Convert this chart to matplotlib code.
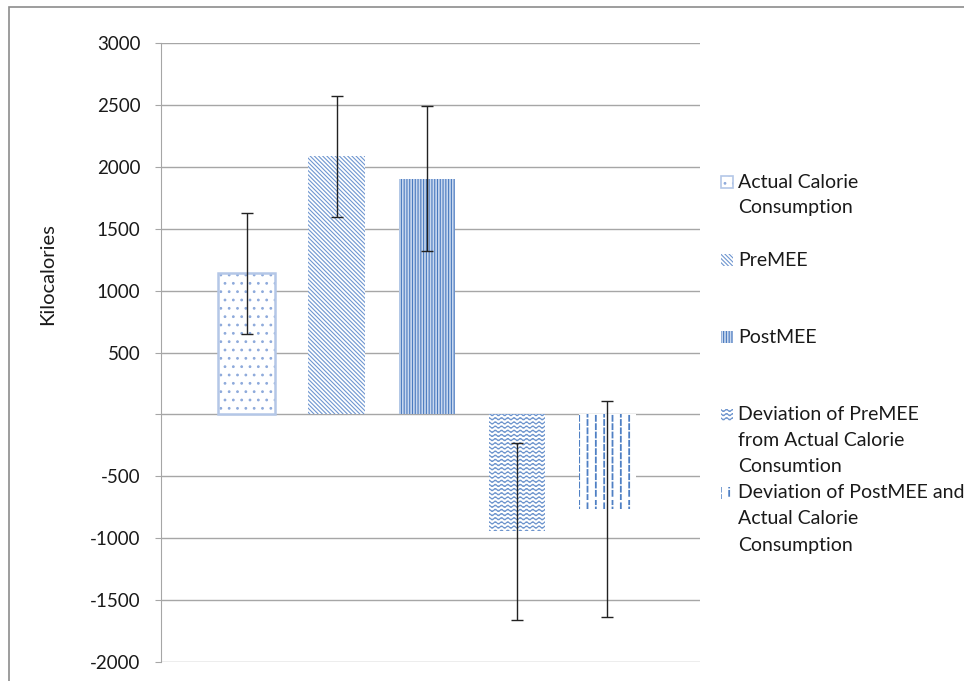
import warnings
import numpy as np
import matplotlib
matplotlib.use("Agg")
import matplotlib.pyplot as plt
import matplotlib.hatch as mhatch
from matplotlib.patches import Rectangle
from matplotlib.path import Path

warnings.filterwarnings("ignore")

labels = ["Actual Calorie\nConsumption", "PreMEE", "PostMEE",
          "Deviation of PreMEE\nfrom Actual Calorie\nConsumtion",
          "Deviation of PostMEE and\nActual Calorie\nConsumption"]
means = [1140, 2085, 1905, -945, -765]
errors = [490, 490, 585, 715, 875]
yticks = [-2000, -1500, -1000, -500, 0, 500, 1000, 1500, 2000, 2500, 3000]
ytick_labels = ["-2000", "-1500", "-1000", "-500", "", "500", "1000", "1500", "2000", "2500", "3000"]


# extra hatch patterns: '~' wavy rows, ':' dashed columns
class WaveHatch(mhatch.HatchPatternBase):
    def __init__(self, hatch, density):
        self.num_lines = int(hatch.count('~') * density)
        self.periods = 16
        self.pts = self.periods * 6 + 1
        self.num_vertices = self.num_lines * self.pts

    def set_vertices_and_codes(self, vertices, codes):
        t = np.linspace(0, 1, self.pts)
        amp = 0.28 / self.num_lines
        for i in range(self.num_lines):
            s = slice(i * self.pts, (i + 1) * self.pts)
            vertices[s, 0] = t
            vertices[s, 1] = (i + 0.5) / self.num_lines + amp * np.sin(2 * np.pi * self.periods * t)
            codes[s] = Path.LINETO
            codes[i * self.pts] = Path.MOVETO


class DashHatch(mhatch.HatchPatternBase):
    def __init__(self, hatch, density):
        self.num_cols = int(hatch.count(':') * density)
        self.dashes = 12
        self.num_vertices = self.num_cols * self.dashes * 2

    def set_vertices_and_codes(self, vertices, codes):
        k = 0
        for i in range(self.num_cols):
            x = (i + 0.5) / self.num_cols
            shift = 0.5 * (i % 2) / self.dashes
            for j in range(self.dashes):
                y0 = j / self.dashes + shift
                vertices[k] = (x, y0)
                vertices[k + 1] = (x, y0 + 0.6 / self.dashes)
                codes[k] = Path.MOVETO
                codes[k + 1] = Path.LINETO
                k += 2


mhatch._hatch_types.append(WaveHatch)
mhatch._hatch_types.append(DashHatch)

plt.rcParams['font.family'] = ['Lato', 'DejaVu Sans']

hatches = ['..', '\\' * 8, '||||||', '~~~~', '::']
hatch_colors = ['#8eaadb', '#6f96d0', '#4a7abf', '#6a92cc', '#4f80c4']
hatch_widths = [0.8, 0.8, 0.8, 0.8, 1.3]
face_colors = ['white', 'white', '#c9d8ef', 'white', 'white']
edge_widths = [1.8, 0, 0, 0, 0]

W, H = 964, 681
fig = plt.figure(figsize=(W / 100, H / 100), dpi=100)

# outer chart frame
fig.add_artist(Rectangle((9 / W, -0.1), 1.2, 1.1 - 7 / H, transform=fig.transFigure,
                         fill=False, edgecolor='#8c8c8c', linewidth=1.2))

ax = fig.add_axes([161 / W, 1 - 662 / H, (700 - 161) / W, (662 - 43) / H])
x = np.arange(len(means))
for i in range(len(means)):
    with plt.rc_context({'hatch.linewidth': hatch_widths[i]}):
        ax.bar(x[i], means[i], width=0.63, color=face_colors[i], edgecolor=hatch_colors[i],
               hatch=hatches[i], linewidth=0, zorder=2)
    if edge_widths[i] > 0:
        ax.bar(x[i], means[i], width=0.63, color='none', edgecolor='#b4c7e7',
               linewidth=edge_widths[i], zorder=2)
ax.errorbar(x, means, yerr=errors, fmt='none', ecolor='#222222', elinewidth=1,
            capsize=4, capthick=1, zorder=3)

ax.set_xlim(-0.95, 5.03)
ax.set_ylim(-2000, 3000)
ax.set_yticks(yticks)
ax.set_yticklabels(ytick_labels, fontsize=13.5)
ax.set_xticks([])
for s in ['top', 'right', 'bottom']:
    ax.spines[s].set_visible(False)
ax.spines['left'].set_color('#a6a6a6')
ax.tick_params(axis='y', length=4.3, color='#a6a6a6', pad=10.5, labelcolor='#1a1a1a')
ax.yaxis.grid(True, color='#a6a6a6', linewidth=1, zorder=0)
ax.set_axisbelow(True)

fig.text(48 / W, 1 - 274 / H, "Kilocalories", rotation=90, ha='center', va='center',
         fontsize=14.5, color='#1a1a1a')

# legend drawn by hand
legend_y = [182, 260, 337, 415, 493]
for i in range(len(labels)):
    cy = legend_y[i]
    with plt.rc_context({'hatch.linewidth': hatch_widths[i]}):
        fig.add_artist(Rectangle((721 / W, 1 - (cy + 6) / H), 12 / W, 12 / H,
                                 transform=fig.transFigure, facecolor=face_colors[i],
                                 edgecolor=hatch_colors[i], hatch=hatches[i], linewidth=0))
    if edge_widths[i] > 0:
        fig.add_artist(Rectangle((721 / W, 1 - (cy + 6) / H), 12 / W, 12 / H,
                                 transform=fig.transFigure, fill=False,
                                 edgecolor='#b4c7e7', linewidth=1.2))
    for k, line in enumerate(labels[i].split('\n')):
        fig.text(738 / W, 1 - (cy + 26 * k) / H, line, ha='left', va='center',
                 fontsize=14, color='#1a1a1a')

fig.savefig("out.png", dpi=100)
